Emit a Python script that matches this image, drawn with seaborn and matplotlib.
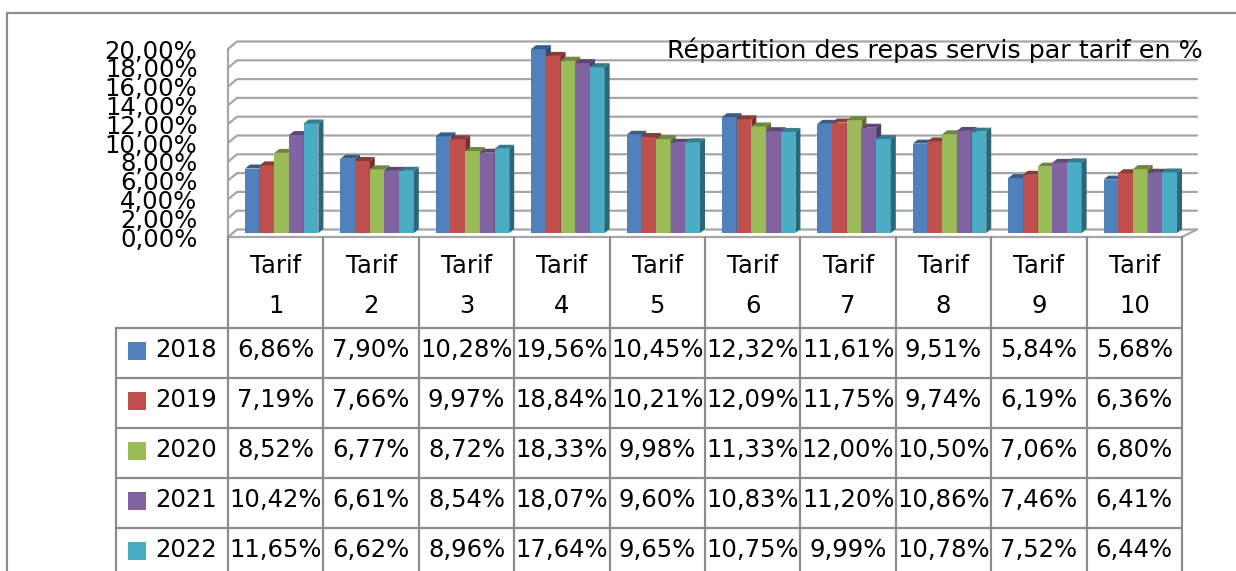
import numpy as np
import pandas as pd
import matplotlib
matplotlib.use("Agg")
import matplotlib.pyplot as plt
import matplotlib.colors as mcolors
from matplotlib.patches import Polygon, Rectangle
from matplotlib.transforms import ScaledTranslation
import seaborn as sns

# Data (percent of meals served per tariff)
tarifs = ["1", "2", "3", "4", "5", "6", "7", "8", "9", "10"]
years = ["2018", "2019", "2020", "2021", "2022"]
v2018 = [6.86, 7.90, 10.28, 19.56, 10.45, 12.32, 11.61, 9.51, 5.84, 5.68]
v2019 = [7.19, 7.66, 9.97, 18.84, 10.21, 12.09, 11.75, 9.74, 6.19, 6.36]
v2020 = [8.52, 6.77, 8.72, 18.33, 9.98, 11.33, 12.00, 10.50, 7.06, 6.80]
v2021 = [10.42, 6.61, 8.54, 18.07, 9.60, 10.83, 11.20, 10.86, 7.46, 6.41]
v2022 = [11.65, 6.62, 8.96, 17.64, 9.65, 10.75, 9.99, 10.78, 7.52, 6.44]
yticks = list(range(0, 21, 2))
title = "Répartition des repas servis par tarif en %"

colors = ["#4F81BD", "#C0504D", "#9BBB59", "#8064A2", "#4BACC6"]
grid_col = "#a6a6a6"
line_col = "#8c8c8c"

series = [v2018, v2019, v2020, v2021, v2022]
df = pd.DataFrame(
    [(t, y, v) for y, vals in zip(years, series) for t, v in zip(tarifs, vals)],
    columns=["tarif", "annee", "pct"],
)


def fmt(v):
    return f"{v:.2f}".replace(".", ",") + "%"


sns.set_style("white")
plt.rcParams["font.family"] = ["DejaVu Sans"]
plt.rcParams["text.color"] = "black"
plt.rcParams["ytick.color"] = "black"
plt.rcParams["ytick.labelcolor"] = "black"

W, H = 1236, 571
fig = plt.figure(figsize=(W / 100, H / 100), dpi=100)

# plot area (pixel box): x 228..1182, 0% at y=237, 20% at y=49
ax = fig.add_axes([228 / W, 1 - 237 / H, (1182 - 228) / W, (237 - 49) / H])
ax.patch.set_visible(False)

sns.barplot(
    data=df, x="tarif", y="pct", hue="annee", palette=colors,
    width=0.77, gap=0, saturation=1, legend=False, ax=ax,
)
ax.set_xlim(-0.5, 9.5)
ax.set_ylim(0, 20)
ax.set_xlabel("")
ax.set_ylabel("")
ax.set_xticks([])
ax.set_yticks(yticks)
ax.set_yticklabels([fmt(v) for v in yticks])
ax.tick_params(axis="y", length=0, pad=22, labelsize=17.5, labelcolor="black")
sns.despine(ax=ax, left=True, bottom=True)

# pixel -> data conversions for the fake depth
px_x = (1182 - 228) / 10.0
px_y = (237 - 49) / 20.0

# back wall gridlines + left wall diagonals
dxl, dxr, dyb = 9 / px_x, 15 / px_x, 7.5 / px_y
for v in yticks:
    ax.plot([-0.5, -0.5 + dxl, 9.5 + dxr], [v, v + dyb, v + dyb],
            color=grid_col, lw=1.6, zorder=0.5, clip_on=False)
ax.plot([-0.5, -0.5], [0, 20], color=grid_col, lw=1.6, zorder=0.5, clip_on=False)
ax.plot([-0.5, 9.5, 9.5 + dxr], [0, 0, dyb], color=grid_col, lw=1.6,
        zorder=0.6, clip_on=False)

# 3D look: shift bars into the floor and add top / side faces
shift = ax.transData + ScaledTranslation(0.06, 0.04, fig.dpi_scale_trans)
ddx, ddy = 5 / px_x, 4 / px_y
for i, cont in enumerate(ax.containers):
    base = np.array(mcolors.to_rgb(colors[i]))
    for bar in cont:
        bar.set_transform(shift)
        bar.set_linewidth(0)
        bar.set_zorder(2 + i)
        x0, w, h = bar.get_x(), bar.get_width(), bar.get_height()
        x1 = x0 + w
        top = Polygon([(x0, h), (x0 + ddx, h + ddy), (x1 + ddx, h + ddy), (x1, h)],
                      closed=True, fc=base * 0.72, ec="none", zorder=2 + i,
                      transform=shift, clip_on=False)
        side = Polygon([(x1, 0), (x1, h), (x1 + ddx, h + ddy), (x1 + ddx, ddy)],
                       closed=True, fc=base * 0.6, ec="none", zorder=2 + i,
                       transform=shift, clip_on=False)
        ax.add_patch(top)
        ax.add_patch(side)

# overlay in pixel coordinates for border, title and data table
ov = fig.add_axes([0, 0, 1, 1])
ov.set_xlim(0, W)
ov.set_ylim(H, 0)
ov.axis("off")
ov.patch.set_visible(False)

ov.plot([7, 7, W + 5], [H + 5, 13, 13], color=line_col, lw=1.6, clip_on=False)
ov.text(1203, 50, title, ha="right", va="center", fontsize=18.3, color="black")

edges = [ax.transData.transform((k - 0.5, 0))[0] for k in range(len(tarifs) + 1)]
centers = [(a + b) / 2 for a, b in zip(edges[:-1], edges[1:])]
legend_left = 116
head_top, head_bot, row_h = 237, 328, 50

for e in edges:
    ov.plot([e, e], [head_top, H + 5], color=line_col, lw=1.6, clip_on=False)
ov.plot([legend_left, legend_left], [head_bot, H + 5], color=line_col, lw=1.6,
        clip_on=False)
for r in range(len(years)):
    y = head_bot + r * row_h
    ov.plot([legend_left, edges[-1]], [y, y], color=line_col, lw=1.6)

for cx, t in zip(centers, tarifs):
    ov.text(cx, 266, "Tarif", ha="center", va="center", fontsize=17.5, color="black")
    ov.text(cx, 306, t, ha="center", va="center", fontsize=17.5, color="black")

for r, (yr, vals) in enumerate(zip(years, series)):
    yc = head_bot + r * row_h + row_h / 2 - 3
    ov.add_patch(Rectangle((128, yc - 8), 18, 18, fc=colors[r], ec="none"))
    ov.text(155, yc, yr, ha="left", va="center", fontsize=17.5, color="black")
    for cx, v in zip(centers, vals):
        ov.text(cx, yc, fmt(v), ha="center", va="center", fontsize=17.5,
                color="black")

fig.savefig("out.png", dpi=100)
